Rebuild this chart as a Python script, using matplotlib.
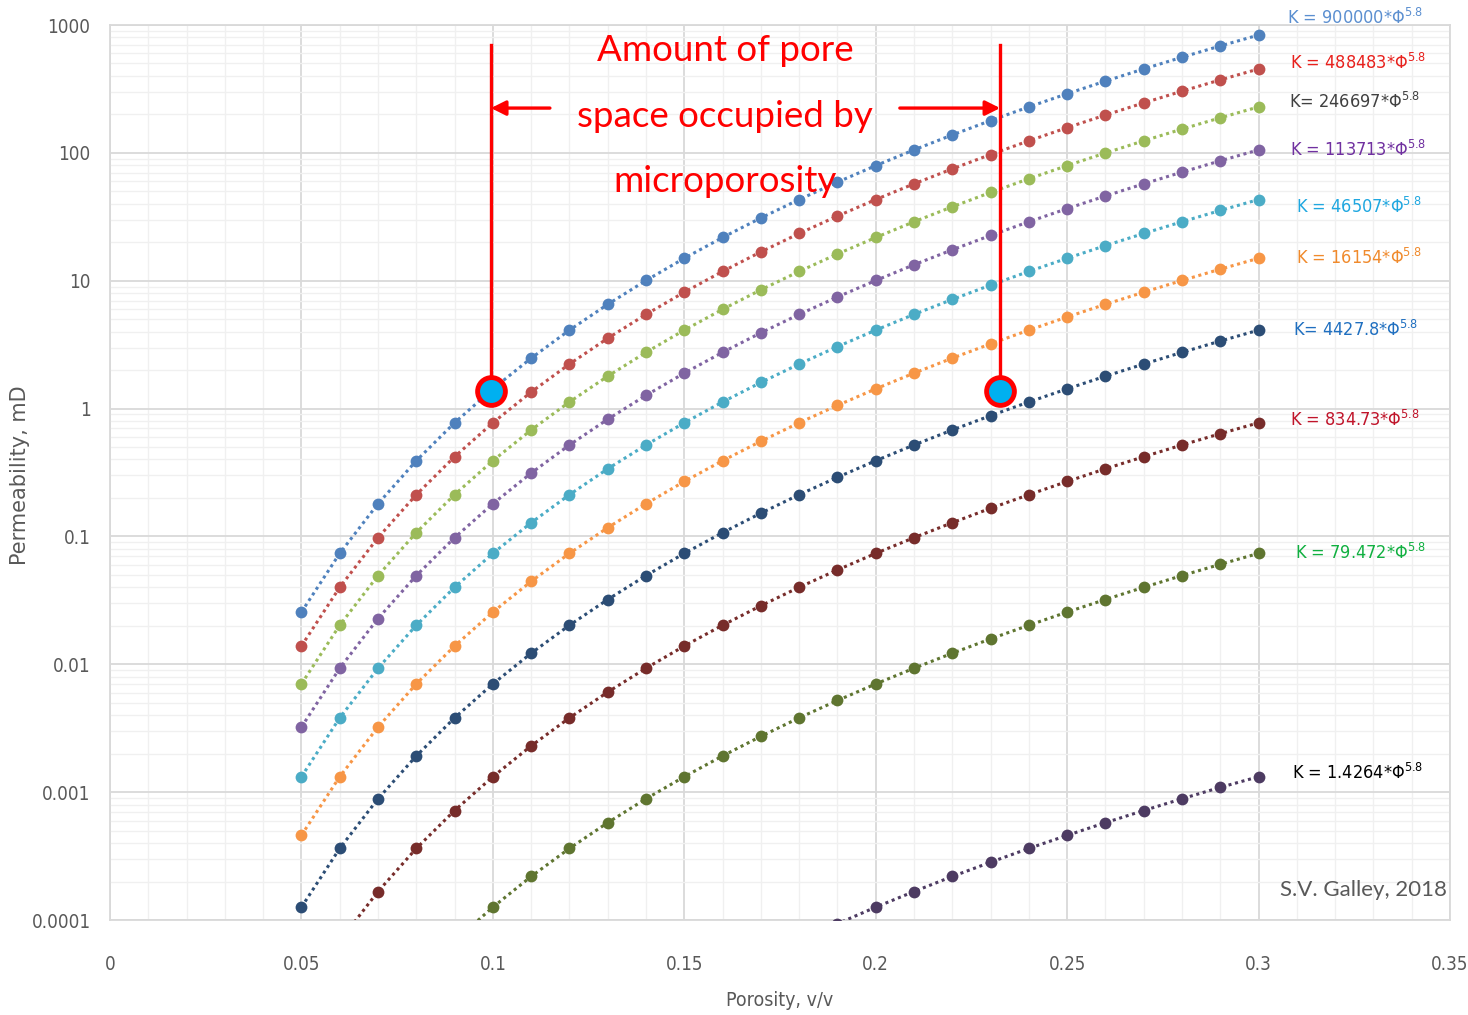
import matplotlib
matplotlib.use('Agg')
import matplotlib.pyplot as plt
from matplotlib.ticker import FixedLocator, NullFormatter

plt.rcParams['font.family'] = ['DejaVu Sans']
plt.rcParams['font.stretch'] = 'condensed'
plt.rcParams['mathtext.fontset'] = 'custom'
plt.rcParams['mathtext.rm'] = 'DejaVu Sans:stretch=condensed'

# porosity (v/v) and permeability (mD) for each K = C*phi^5.8 curve
porosity = [0.05, 0.06, 0.07, 0.08, 0.09, 0.10, 0.11, 0.12, 0.13, 0.14, 0.15, 0.16, 0.17,
            0.18, 0.19, 0.20, 0.21, 0.22, 0.23, 0.24, 0.25, 0.26, 0.27, 0.28, 0.29, 0.30]

k_900000 = [0.0256, 0.0737, 0.180, 0.391, 0.774, 1.426, 2.479, 4.107, 6.533, 10.04, 14.98, 21.78, 30.96,
            43.13, 59.02, 79.47, 105.5, 138.1, 178.8, 228.8, 289.9, 364.0, 453.1, 559.4, 685.7, 834.7]
k_488483 = [0.0139, 0.0400, 0.0978, 0.212, 0.420, 0.774, 1.346, 2.229, 3.546, 5.450, 8.132, 11.82, 16.81,
            23.41, 32.03, 43.13, 57.24, 74.97, 97.02, 124.2, 157.4, 197.6, 245.9, 303.6, 372.2, 453.1]
k_246697 = [0.00702, 0.0202, 0.0494, 0.1072, 0.2122, 0.391, 0.680, 1.126, 1.791, 2.752, 4.107, 5.971, 8.487,
            11.82, 16.18, 21.78, 28.91, 37.86, 49.00, 62.72, 79.47, 99.75, 124.2, 153.4, 188.0, 228.8]
k_113713 = [0.00323, 0.00931, 0.0228, 0.0494, 0.0978, 0.180, 0.313, 0.519, 0.825, 1.269, 1.893, 2.752, 3.912,
            5.450, 7.457, 10.04, 13.33, 17.45, 22.59, 28.91, 36.63, 45.99, 57.24, 70.68, 86.64, 105.5]
k_46507 = [0.00132, 0.00381, 0.00931, 0.0202, 0.0400, 0.0737, 0.128, 0.212, 0.338, 0.519, 0.774, 1.126, 1.600,
           2.229, 3.050, 4.107, 5.450, 7.138, 9.237, 11.82, 14.98, 18.81, 23.41, 28.91, 35.43, 43.13]
k_16154 = [0.000460, 0.00132, 0.00323, 0.00702, 0.0139, 0.0256, 0.0445, 0.0737, 0.117, 0.180, 0.269, 0.391, 0.555,
           0.774, 1.059, 1.426, 1.893, 2.479, 3.207, 4.107, 5.203, 6.533, 8.132, 10.04, 12.31, 14.98]
k_4427 = [0.000126, 0.000363, 0.000887, 0.00192, 0.00381, 0.00702, 0.0122, 0.0202, 0.0321, 0.0494, 0.0737, 0.107, 0.152,
          0.212, 0.290, 0.391, 0.519, 0.680, 0.880, 1.126, 1.426, 1.791, 2.229, 2.752, 3.374, 4.107]
k_834 = [2.37e-5, 6.84e-5, 1.67e-4, 3.63e-4, 7.18e-4, 0.00132, 0.00230, 0.00381, 0.00606, 0.00931, 0.0139, 0.0202, 0.0287,
         0.0400, 0.0547, 0.0737, 0.0978, 0.128, 0.166, 0.212, 0.269, 0.338, 0.420, 0.519, 0.636, 0.774]
k_79 = [2.26e-6, 6.51e-6, 1.59e-5, 3.45e-5, 6.84e-5, 1.26e-4, 2.19e-4, 3.63e-4, 5.77e-4, 8.87e-4, 0.00132, 0.00192, 0.00273,
        0.00381, 0.00521, 0.00702, 0.00931, 0.0122, 0.0158, 0.0202, 0.0256, 0.0321, 0.0400, 0.0494, 0.0605, 0.0737]
k_1 = [4.06e-8, 1.17e-7, 2.86e-7, 6.20e-7, 1.23e-6, 2.26e-6, 3.93e-6, 6.51e-6, 1.04e-5, 1.59e-5, 2.37e-5, 3.45e-5, 4.91e-5,
       6.84e-5, 9.35e-5, 1.26e-4, 1.67e-4, 2.19e-4, 2.83e-4, 3.63e-4, 4.59e-4, 5.77e-4, 7.18e-4, 8.87e-4, 0.00109, 0.00132]

curves = [k_900000, k_488483, k_246697, k_113713, k_46507, k_16154, k_4427, k_834, k_79, k_1]
coeffs = ['900000', '488483', '246697', '113713', '46507', '16154', '4427.8', '834.73', '79.472', '1.4264']
eq_sep = [' = ', ' = ', '= ', ' = ', ' = ', ' = ', '= ', ' = ', ' = ', ' = ']
line_colors = ['#4F81BD', '#C0504D', '#9BBB59', '#8064A2', '#4BACC6',
               '#F79646', '#2C4D75', '#772C2A', '#5F7530', '#4D3B62']
label_colors = ['#5B8FD0', '#E8201C', '#404040', '#7030A0', '#1FA7E0',
                '#F08A2C', '#1F6FC0', '#C0142A', '#10B040', '#000000']
label_y = [1135, 504, 250, 105, 37.7, 15.1, 4.12, 0.815, 0.0741, 0.00141]
label_x = [0.3075, 0.3082, 0.3079, 0.3082, 0.3098, 0.3098, 0.3090, 0.3082, 0.3096, 0.3088]

# microporosity markers and arrow positions
left_phi, right_phi, marker_k = 0.0995, 0.2325, 1.37
bracket_top = 697
arrow_k = 224

fig = plt.figure(figsize=(14.68, 10.15), dpi=100)
ax = fig.add_axes([110 / 1468, 95 / 1015, 1340 / 1468, 895 / 1015])

for k, c in zip(curves, line_colors):
    ax.plot(porosity, k, linestyle=(0, (1, 1.2)), linewidth=2.2, color=c,
            marker='o', markersize=8.5, markeredgewidth=0, zorder=3)

ax.set_yscale('log')
ax.set_xlim(0, 0.35)
ax.set_ylim(0.0001, 1000)

yt = [0.0001, 0.001, 0.01, 0.1, 1, 10, 100, 1000]
ax.set_yticks(yt)
ax.set_yticklabels(['0.0001', '0.001', '0.01', '0.1', '1', '10', '100', '1000'])
ax.yaxis.set_minor_locator(FixedLocator([m * 10.0 ** e for e in range(-4, 3) for m in range(2, 10)]))
ax.yaxis.set_minor_formatter(NullFormatter())
ax.set_xticks([0, 0.05, 0.1, 0.15, 0.2, 0.25, 0.3, 0.35])
ax.set_xticklabels(['0', '0.05', '0.1', '0.15', '0.2', '0.25', '0.3', '0.35'])
ax.xaxis.set_minor_locator(FixedLocator([i / 100 for i in range(1, 35)]))

ax.grid(which='major', color='#D9D9D9', linewidth=1.3)
ax.grid(which='minor', color='#F0F0F0', linewidth=1.0)
ax.set_axisbelow(True)
ax.tick_params(which='both', length=0, labelsize=13.5, labelcolor='#595959')
ax.tick_params(axis='x', pad=25)
ax.tick_params(axis='y', pad=14)
for s in ax.spines.values():
    s.set_color('#D9D9D9')
    s.set_linewidth(1.3)

fig.text(780 / 1468, 1 - 1000 / 1015, 'Porosity, v/v', fontsize=14, color='#595959',
         ha='center', va='center')
fig.text(20 / 1468, 1 - 475 / 1015, 'Permeability, mD', rotation=90, fontsize=15,
         color='#595959', ha='center', va='center', family='DejaVu Sans', stretch='normal')

# equation labels at the right end of each curve
for x, y, c, sep, col in zip(label_x, label_y, coeffs, eq_sep, label_colors):
    ax.text(x, y, 'K' + sep + c + r'*Φ$^{\mathrm{5.8}}$', color=col, fontsize=13,
            va='center', ha='left', clip_on=False)

# bracket showing pore space taken up by microporosity
for xp in (left_phi, right_phi):
    ax.plot([xp, xp], [marker_k, bracket_top], color='#FF0000', linewidth=2.4, zorder=5)
    ax.plot([xp], [marker_k], marker='o', markersize=20, markerfacecolor='#00B0F0',
            markeredgecolor='#FF0000', markeredgewidth=3.5, zorder=6)
ax.annotate('', xy=(left_phi, arrow_k), xytext=(0.1149, arrow_k),
            arrowprops=dict(arrowstyle='-|>', color='#FF0000', lw=2.4, mutation_scale=22,
                            shrinkA=0, shrinkB=0), zorder=5)
ax.annotate('', xy=(right_phi, arrow_k), xytext=(0.2063, arrow_k),
            arrowprops=dict(arrowstyle='-|>', color='#FF0000', lw=2.4, mutation_scale=22,
                            shrinkA=0, shrinkB=0), zorder=5)
for txt, y in zip(['Amount of pore', 'space occupied by', 'microporosity'], [637, 191, 59.2]):
    ax.text(0.1606, y, txt, color='#FF0000', fontsize=26.5, ha='center', va='center',
            family='Lato', stretch='normal', zorder=7)

ax.text(0.3492, 1.72e-4, 'S.V. Galley, 2018', color='#595959', fontsize=16,
        ha='right', va='center', family='Lato', stretch='normal')

fig.savefig('out.png', dpi=100)
